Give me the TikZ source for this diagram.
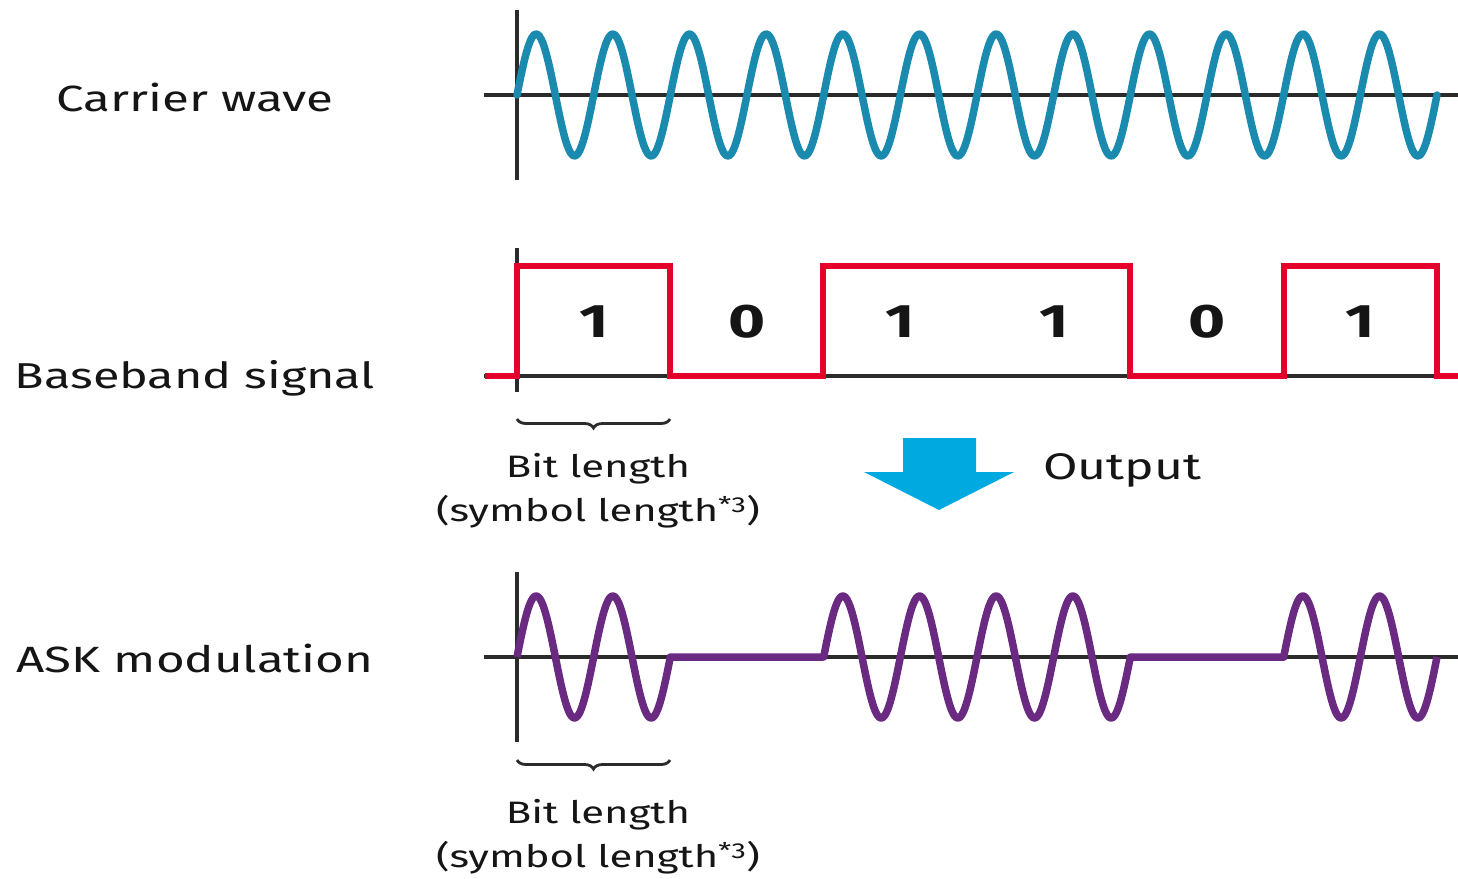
\documentclass[tikz,border=0pt]{standalone}
\usepackage{fontspec}
\setmainfont[FakeStretch=1.35]{Fira Sans}
\usetikzlibrary{decorations.pathreplacing}
\definecolor{carrierc}{HTML}{1A8AAE}
\definecolor{basec}{HTML}{E4002B}
\definecolor{askc}{HTML}{6A2A82}
\definecolor{arrowc}{HTML}{00A9E0}
\definecolor{axisc}{HTML}{2B2B2B}
\definecolor{txtc}{HTML}{151515}
\tikzset{
  axisline/.style={draw=axisc, line width=3.3pt},
  wave/.style={line width=7.5pt, line join=round, line cap=round},
  bracec/.style={draw=axisc, line width=2.8pt, decorate, decoration={brace, mirror, amplitude=9pt}},
  rowlabel/.style={text=txtc, font=\fontsize{36.5}{40}\selectfont, inner sep=0pt},
  smalllabel/.style={text=txtc, font=\fontsize{31}{36}\selectfont, inner sep=0pt},
  bitlabel/.style={text=txtc, font=\fontsize{47}{52}\selectfont\bfseries, inner sep=0pt},
}
\begin{document}
\begin{tikzpicture}[x=1pt, y=-1pt]
\useasboundingbox (0,0) rectangle (1458,878);
% ---- labels
\node[rowlabel] (lcar) at (195,97) {Carrier wave};
\node[rowlabel, font=\fontsize{36}{40}\selectfont] (lbase) at (195,378) {Baseband signal};
\node[rowlabel] (lask) at (195,658) {ASK modulation};
% ---- carrier wave
\draw[axisline] (517,10) -- (517,180);
\draw[axisline] (484,95) -- (1458,95);
\draw[wave, carrierc] plot[domain=0:920, samples=500] ({517+\x},{95-61*sin(\x*4.69565)});
% ---- baseband
\draw[axisline] (517,248) -- (517,392);
\draw[axisline] (484,376) -- (1458,376);
\draw[line width=6.5pt, basec, line join=miter] (485,376) -- (517,376) -- (517,266) -- (670,266) -- (670,376) -- (823,376) -- (823,266) -- (1130,266) -- (1130,376) -- (1284,376) -- (1284,266) -- (1437,266) -- (1437,376) -- (1458,376);
\node[bitlabel] (b1) at (594,322) {1};
\node[bitlabel] (b2) at (747,322) {0};
\node[bitlabel] (b3) at (900,322) {1};
\node[bitlabel] (b4) at (1054,322) {1};
\node[bitlabel] (b5) at (1207,322) {0};
\node[bitlabel] (b6) at (1360,322) {1};
\coordinate (br1a) at (517,419);
\coordinate (br1b) at (670,419);
\draw[bracec] (br1a) -- (br1b);
\node[smalllabel] (bl1) at (598,469) {Bit length};
\node[smalllabel] (sl1) at (598,512) {(symbol length\textsuperscript{*3})};
% ---- arrow
\fill[arrowc] (903,438) -- (976,438) -- (976,472) -- (1014,472) -- (939,510) -- (864,472) -- (903,472) -- cycle;
\node[rowlabel, anchor=west, font=\fontsize{37}{40}\selectfont] (out) at (1043,470) {Output};
% ---- ASK
\draw[axisline] (517,572) -- (517,742);
\draw[axisline] (484,657) -- (1458,657);
\draw[wave, askc, line cap=butt] plot[domain=0:153.33, samples=120] ({517+\x},{657-61*sin(\x*4.69565)})
  -- (823,657)
  -- plot[domain=306.67:613.33, samples=240] ({517+\x},{657-61*sin(\x*4.69565)})
  -- (1284,657)
  -- plot[domain=766.67:920, samples=120] ({517+\x},{657-61*sin(\x*4.69565)});
\coordinate (br2a) at (517,760);
\coordinate (br2b) at (670,760);
\draw[bracec] (br2a) -- (br2b);
\node[smalllabel] (bl2) at (598,815) {Bit length};
\node[smalllabel] (sl2) at (598,858) {(symbol length\textsuperscript{*3})};
\end{tikzpicture}
\end{document}
